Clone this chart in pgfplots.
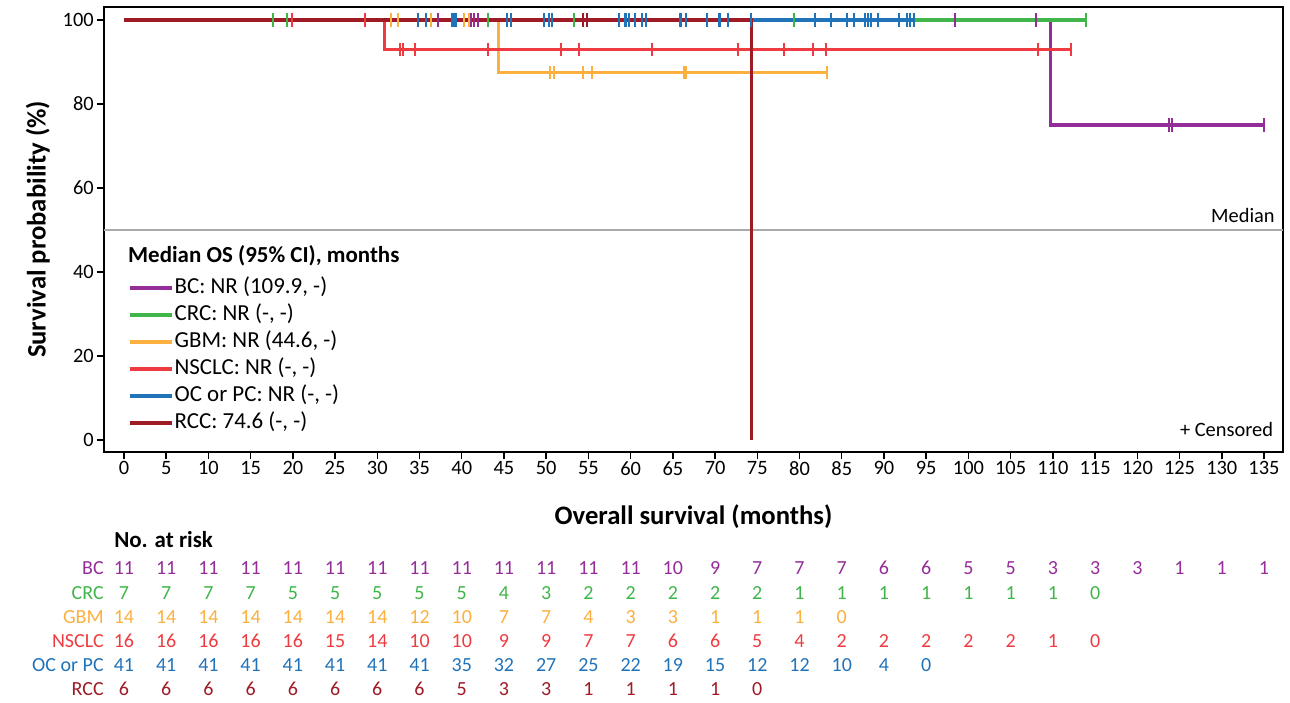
\documentclass[border=0pt]{standalone}
\usepackage{pgfplots}
\pgfplotsset{compat=1.18}
\usepackage{fontspec}
\setmainfont{Carlito}
\definecolor{bccol}{RGB}{149,45,152}
\definecolor{crccol}{RGB}{64,181,73}
\definecolor{gbmcol}{RGB}{251,176,64}
\definecolor{nsclccol}{RGB}{238,59,64}
\definecolor{occol}{RGB}{33,115,185}
\definecolor{rcccol}{RGB}{158,27,38}
\definecolor{medgray}{RGB}{170,170,170}
\newcommand\tickfont{\fontsize{15.3}{18}\selectfont}
\newcommand\riskfont{\fontsize{15}{18}\selectfont}
\newcommand\legfont{\fontsize{17.2}{20}\selectfont}
\newcommand\labfont{\fontsize{20}{24}\selectfont\bfseries}

\pgfplotsset{
  km/.style={const plot, mark=none, line width=2.3pt, #1},
  cens/.style={only marks, mark=|, mark size=4.9pt, mark options={line width=1.5pt, #1}},
  risk/.style={draw=none, mark=none, nodes near coords, point meta=explicit symbolic,
    nodes near coords style={anchor=center, inner sep=0pt, text=#1, font=\riskfont}},
}

\begin{document}
\begin{tikzpicture}
\begin{axis}[
  scale only axis, width=884.25pt, height=333.75pt,
  xmin=-2.37, xmax=137.25, ymin=-2.86, ymax=103.1,
  xtick={0,5,...,135}, ytick={0,20,...,100},
  tick align=outside, xtick pos=bottom, ytick pos=left,
  major tick length=5.5pt,
  tick style={black, line width=1.1pt},
  axis line style={line width=1.8pt},
  ticklabel style={font=\tickfont},
  xticklabel style={inner sep=1.5pt},
  yticklabel style={inner sep=2pt},
  /pgf/number format/assume math mode=true,
  xlabel={Overall survival (months)},
  ylabel={Survival probability (\%)},
  xlabel style={at={(axis description cs:0.5,-0.146)}, anchor=center, font=\labfont},
  ylabel style={at={(axis description cs:-0.056,0.5)}, anchor=center, font=\labfont},
  clip=false,
  legend style={at={(axis cs:0.47,39.1)}, anchor=north west, draw=none, fill=none,
    inner sep=0pt, font=\legfont, row sep=2.25pt,
    nodes={inner sep=1pt, text height=12pt, text depth=4pt},
    /tikz/every even column/.append style={column sep=4pt}},
  legend cell align=left,
  legend image code/.code={\draw[#1] (0pt,0pt) -- (31.5pt,0pt);},
]
% median reference line
\addplot[medgray, line width=1.2pt, forget plot] coordinates {(-2.37,50) (137.25,50)};

% BC
\addplot[km=bccol, forget plot] coordinates {(0,100) (109.7,75) (135.0,75)};
\addplot[cens=bccol, forget plot] coordinates {
  (37.2,100) (41.1,100) (41.4,100) (41.9,100) (98.4,100) (108.0,100)
  (123.7,75) (124.1,75) (135.0,75)};
% CRC
\addplot[km=crccol, forget plot] coordinates {(0,100) (113.9,100)};
\addplot[cens=crccol, forget plot] coordinates {
  (17.6,100) (19.3,100) (43.1,100) (53.3,100) (79.3,100) (113.9,100)};
% GBM
\addplot[km=gbmcol, forget plot] coordinates {(0,100) (44.3,87.5) (83.3,87.5)};
\addplot[cens=gbmcol, forget plot] coordinates {
  (31.6,100) (32.4,100) (36.3,100) (40.3,100) (40.8,100)
  (50.5,87.5) (50.9,87.5) (54.3,87.5) (55.4,87.5) (66.3,87.5) (66.6,87.5) (83.3,87.5)};
% NSCLC
\addplot[km=nsclccol, forget plot] coordinates {(0,100) (30.9,92.9) (112.1,92.9)};
\addplot[cens=nsclccol, forget plot] coordinates {
  (19.9,100) (28.6,100)
  (32.7,92.9) (33.1,92.9) (34.5,92.9) (43.1,92.9) (51.8,92.9) (53.9,92.9)
  (62.5,92.9) (72.7,92.9) (78.2,92.9) (81.6,92.9) (83.1,92.9) (108.2,92.9) (112.1,92.9)};
% OC or PC
\addplot[km=occol, forget plot] coordinates {(0,100) (93.5,100)};
\addplot[cens=occol, forget plot] coordinates {
  (34.8,100) (35.8,100) (38.9,100) (39.1,100) (39.3,100) (45.4,100) (45.8,100)
  (49.7,100) (50.3,100) (50.7,100) (58.6,100) (59.3,100) (59.4,100) (59.8,100)
  (60.5,100) (61.4,100) (61.8,100) (65.8,100) (66.0,100) (66.6,100) (69.1,100)
  (70.5,100) (70.6,100) (71.5,100) (74.3,100) (81.8,100) (83.7,100) (85.6,100)
  (86.4,100) (87.8,100) (88.1,100) (88.5,100) (89.3,100) (91.8,100) (92.7,100)
  (93.1,100) (93.5,100)};
% RCC
\addplot[km=rcccol, forget plot] coordinates {(0,100) (74.3,0)};
\addplot[cens=rcccol, forget plot] coordinates {(54.4,100) (54.8,100)};

% legend
\addlegendimage{bccol, line width=2.3pt}
\addlegendentry{BC: NR (109.9, -)}
\addlegendimage{crccol, line width=2.3pt}
\addlegendentry{CRC: NR (-, -)}
\addlegendimage{gbmcol, line width=2.3pt}
\addlegendentry{GBM: NR (44.6, -)}
\addlegendimage{nsclccol, line width=2.3pt}
\addlegendentry{NSCLC: NR (-, -)}
\addlegendimage{occol, line width=2.3pt}
\addlegendentry{OC or PC: NR (-, -)}
\addlegendimage{rcccol, line width=2.3pt}
\addlegendentry{RCC: 74.6 (-, -)}

\node[anchor=west, inner sep=0pt, font=\legfont\bfseries] at (axis cs:0.47,43.9) {Median OS (95\% CI), months};
\node[anchor=east, inner sep=0pt, font=\tickfont] at (axis cs:136.3,53.4) {Median};
\node[anchor=east, inner sep=0pt, font=\tickfont] at (axis cs:136.1,2.4) {+ Censored};

% number at risk
\node[anchor=west, inner sep=0pt, font=\legfont\bfseries] at (axis cs:-1.18,-23.8) {No. at risk};
\node[anchor=east, inner sep=0pt, font=\riskfont, text=bccol] at (axis cs:-2.37,-30.5) {BC};
\node[anchor=east, inner sep=0pt, font=\riskfont, text=crccol] at (axis cs:-2.37,-36.4) {CRC};
\node[anchor=east, inner sep=0pt, font=\riskfont, text=gbmcol] at (axis cs:-2.37,-42.1) {GBM};
\node[anchor=east, inner sep=0pt, font=\riskfont, text=nsclccol] at (axis cs:-2.37,-47.9) {NSCLC};
\node[anchor=east, inner sep=0pt, font=\riskfont, text=occol] at (axis cs:-2.37,-53.6) {OC or PC};
\node[anchor=east, inner sep=0pt, font=\riskfont, text=rcccol] at (axis cs:-2.37,-59.3) {RCC};

\addplot[risk=bccol] table[x=x, y expr=-30.5, meta=n, row sep=\\] {
x n\\ 0 11\\ 5 11\\ 10 11\\ 15 11\\ 20 11\\ 25 11\\ 30 11\\ 35 11\\ 40 11\\ 45 11\\
50 11\\ 55 11\\ 60 11\\ 65 10\\ 70 9\\ 75 7\\ 80 7\\ 85 7\\ 90 6\\ 95 6\\ 100 5\\
105 5\\ 110 3\\ 115 3\\ 120 3\\ 125 1\\ 130 1\\ 135 1\\};
\addplot[risk=crccol] table[x=x, y expr=-36.4, meta=n, row sep=\\] {
x n\\ 0 7\\ 5 7\\ 10 7\\ 15 7\\ 20 5\\ 25 5\\ 30 5\\ 35 5\\ 40 5\\ 45 4\\ 50 3\\
55 2\\ 60 2\\ 65 2\\ 70 2\\ 75 2\\ 80 1\\ 85 1\\ 90 1\\ 95 1\\ 100 1\\ 105 1\\ 110 1\\ 115 0\\};
\addplot[risk=gbmcol] table[x=x, y expr=-42.1, meta=n, row sep=\\] {
x n\\ 0 14\\ 5 14\\ 10 14\\ 15 14\\ 20 14\\ 25 14\\ 30 14\\ 35 12\\ 40 10\\ 45 7\\
50 7\\ 55 4\\ 60 3\\ 65 3\\ 70 1\\ 75 1\\ 80 1\\ 85 0\\};
\addplot[risk=nsclccol] table[x=x, y expr=-47.9, meta=n, row sep=\\] {
x n\\ 0 16\\ 5 16\\ 10 16\\ 15 16\\ 20 16\\ 25 15\\ 30 14\\ 35 10\\ 40 10\\ 45 9\\
50 9\\ 55 7\\ 60 7\\ 65 6\\ 70 6\\ 75 5\\ 80 4\\ 85 2\\ 90 2\\ 95 2\\ 100 2\\ 105 2\\ 110 1\\ 115 0\\};
\addplot[risk=occol] table[x=x, y expr=-53.6, meta=n, row sep=\\] {
x n\\ 0 41\\ 5 41\\ 10 41\\ 15 41\\ 20 41\\ 25 41\\ 30 41\\ 35 41\\ 40 35\\ 45 32\\
50 27\\ 55 25\\ 60 22\\ 65 19\\ 70 15\\ 75 12\\ 80 12\\ 85 10\\ 90 4\\ 95 0\\};
\addplot[risk=rcccol] table[x=x, y expr=-59.3, meta=n, row sep=\\] {
x n\\ 0 6\\ 5 6\\ 10 6\\ 15 6\\ 20 6\\ 25 6\\ 30 6\\ 35 6\\ 40 5\\ 45 3\\ 50 3\\
55 1\\ 60 1\\ 65 1\\ 70 1\\ 75 0\\};

% frame the page like the reference
\path (axis cs:-14.68,104.76) rectangle (axis cs:138.08,-62.6);
\end{axis}
\end{tikzpicture}
\end{document}
